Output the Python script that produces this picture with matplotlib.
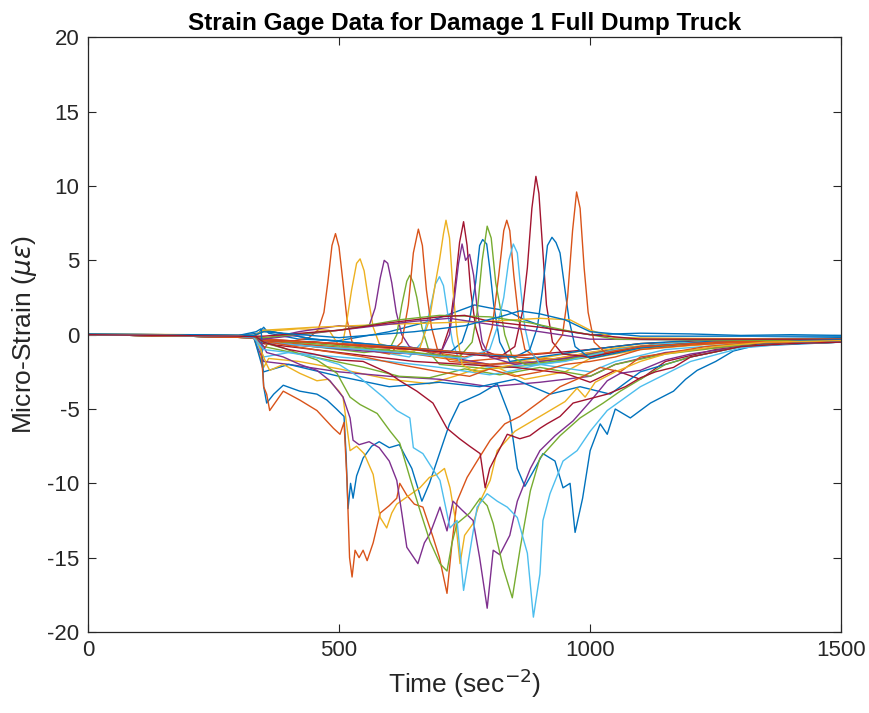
import matplotlib
matplotlib.use("Agg")
from matplotlib import pyplot as plt

# MATLAB default line colour order
palette = ["#0072BD", "#D95319", "#EDB120", "#7E2F8E", "#77AC30", "#4DBEEE", "#A2142F"]

x_ticks = [0, 500, 1000, 1500]
y_ticks = [-20, -15, -10, -5, 0, 5, 10, 15, 20]

# --- gauges with a positive peak (first row) ---
t_p1 = [0, 200, 330, 350, 400, 440, 458, 470, 478, 486, 493, 500, 508, 516, 526, 560, 650, 750, 850, 950, 1050, 1150, 1300, 1500]
e_p1 = [0.0, -0.1, -0.2, -0.6, -0.5, -0.2, 0.3, 1.5, 3.6, 6.0, 6.8, 5.9, 3.5, 1.0, -0.5, -1.0, -1.3, -1.8, -1.5, -1.7, -1.0, -0.7, -0.5, -0.4]

t_p2 = [0, 200, 330, 350, 420, 480, 505, 515, 525, 535, 542, 550, 558, 568, 580, 620, 700, 800, 900, 1000, 1100, 1250, 1500]
e_p2 = [0.05, 0.0, -0.1, 0.2, 0.4, 0.3, -1.0, 0.8, 3.0, 4.8, 5.1, 4.3, 2.5, 0.5, -0.6, -1.0, -1.5, -2.0, -1.6, -1.0, -0.6, -0.4, -0.3]

t_p3 = [0, 200, 330, 350, 420, 500, 540, 560, 572, 582, 590, 597, 605, 614, 625, 640, 700, 800, 900, 1000, 1100, 1250, 1500]
e_p3 = [0.0, -0.05, -0.1, -0.3, 0.2, 0.6, 0.5, 0.6, 1.8, 3.8, 5.0, 4.8, 3.5, 1.5, 0.0, -0.8, -1.4, -2.0, -1.8, -1.2, -0.8, -0.5, -0.4]

t_p4 = [0, 200, 330, 350, 450, 550, 600, 615, 625, 635, 641, 648, 655, 665, 680, 700, 800, 900, 1000, 1100, 1250, 1500]
e_p4 = [0.0, -0.1, -0.2, -0.5, -0.8, -1.2, -1.0, 0.0, 2.0, 3.6, 4.0, 3.5, 2.5, 0.5, -1.2, -2.0, -2.3, -2.0, -1.5, -0.9, -0.6, -0.4]

t_p5 = [0, 200, 330, 350, 450, 550, 640, 665, 680, 692, 700, 708, 716, 726, 740, 800, 900, 1000, 1100, 1250, 1500]
e_p5 = [0.0, -0.1, -0.2, -0.4, -0.7, -1.0, -1.5, -0.5, 1.5, 3.4, 3.9, 3.3, 1.5, -0.5, -1.8, -2.2, -2.0, -1.4, -0.8, -0.5, -0.4]

t_p6 = [0, 200, 330, 350, 450, 550, 650, 705, 720, 730, 740, 748, 755, 762, 772, 785, 820, 900, 1000, 1100, 1250, 1500]
e_p6 = [0.0, -0.1, -0.15, -0.3, -0.5, -0.8, -1.0, -1.0, 0.5, 3.0, 6.2, 7.6, 6.0, 3.0, 0.5, -1.0, -1.5, -1.3, -1.0, -0.6, -0.4, -0.3]

t_p7 = [0, 200, 330, 350, 450, 550, 650, 720, 745, 760, 772, 780, 786, 794, 800, 808, 820, 840, 900, 1000, 1100, 1250, 1500]
e_p7 = [0.0, -0.05, -0.1, 0.3, -0.3, -0.6, -0.9, -1.2, -0.5, 1.0, 3.5, 6.0, 6.4, 6.1, 4.5, 2.0, -0.5, -1.8, -1.5, -1.0, -0.6, -0.3, -0.2]

t_p8 = [0, 200, 330, 350, 450, 550, 650, 750, 790, 805, 818, 828, 834, 840, 848, 858, 870, 900, 1000, 1100, 1250, 1500]
e_p8 = [0.0, -0.05, -0.1, -0.3, -0.5, -0.8, -1.0, -1.5, -1.2, 0.5, 4.0, 7.0, 7.7, 7.0, 4.0, 1.0, -1.0, -1.7, -1.5, -0.8, -0.5, -0.4]

# --- gauges with a positive peak (second row) ---
t_q1 = [0, 200, 330, 350, 450, 550, 600, 625, 638, 648, 658, 666, 674, 684, 696, 720, 800, 900, 1000, 1100, 1250, 1500]
e_q1 = [0.0, -0.1, -0.2, -0.4, -0.7, -1.0, -1.3, -0.5, 2.0, 5.5, 7.1, 6.0, 3.0, 0.5, -1.0, -1.8, -2.0, -1.8, -1.3, -0.8, -0.5, -0.4]

t_q2 = [0, 200, 330, 350, 450, 550, 620, 660, 680, 692, 700, 708, 713, 720, 727, 735, 745, 770, 850, 950, 1050, 1150, 1300, 1500]
e_q2 = [0.0, -0.1, -0.2, -0.5, -0.8, -1.0, -1.3, -1.0, 1.0, 3.5, 5.0, 6.8, 7.7, 6.5, 3.0, 0.0, -2.0, -2.5, -2.0, -1.5, -0.9, -0.6, -0.4, -0.3]

t_q3 = [0, 200, 330, 350, 450, 550, 650, 700, 720, 730, 738, 745, 752, 760, 768, 776, 785, 800, 850, 950, 1050, 1150, 1300, 1500]
e_q3 = [0.0, -0.1, -0.2, -0.5, -0.8, -1.1, -1.3, -1.4, 0.0, 2.5, 4.8, 6.1, 5.0, 5.4, 4.0, 1.5, -0.5, -1.5, -2.0, -1.6, -1.0, -0.6, -0.4, -0.3]

t_q4 = [0, 200, 330, 350, 450, 550, 650, 740, 765, 775, 785, 795, 803, 812, 820, 830, 845, 870, 950, 1050, 1150, 1300, 1500]
e_q4 = [0.0, -0.1, -0.2, -0.4, -0.6, -0.9, -1.2, -1.5, -0.5, 1.5, 5.0, 7.3, 6.5, 3.5, 2.0, 0.0, -1.5, -2.0, -1.7, -1.0, -0.6, -0.4, -0.3]

t_q5 = [0, 200, 330, 350, 450, 550, 650, 750, 800, 815, 828, 838, 847, 855, 862, 870, 880, 900, 950, 1050, 1150, 1300, 1500]
e_q5 = [0.0, -0.1, -0.2, -0.5, -0.8, -1.0, -1.3, -1.6, -1.0, 0.5, 2.5, 5.0, 6.1, 5.5, 3.0, 0.5, -1.0, -2.0, -1.8, -1.0, -0.6, -0.4, -0.3]

t_q6 = [0, 200, 330, 350, 450, 550, 650, 750, 820, 850, 865, 875, 884, 892, 898, 905, 913, 925, 945, 1000, 1100, 1250, 1500]
e_q6 = [0.0, -0.1, -0.2, -0.4, -0.5, -0.7, -1.0, -1.3, -1.5, -0.8, 1.5, 4.5, 8.5, 10.65, 9.5, 6.0, 2.0, -0.5, -1.3, -1.5, -0.8, -0.5, -0.4]

t_q7 = [0, 200, 330, 350, 450, 550, 650, 750, 850, 880, 895, 905, 915, 924, 932, 940, 948, 958, 970, 1000, 1100, 1250, 1500]
e_q7 = [0.0, -0.05, -0.1, 0.3, -0.3, -0.6, -0.9, -1.2, -1.5, -1.0, 0.5, 3.0, 6.0, 6.55, 6.2, 5.5, 3.5, 1.0, -0.8, -1.6, -0.9, -0.4, -0.3]

t_q8 = [0, 200, 330, 350, 450, 550, 650, 750, 850, 920, 945, 955, 965, 973, 980, 988, 996, 1008, 1030, 1100, 1250, 1500]
e_q8 = [0.0, -0.1, -0.2, -0.4, -0.5, -0.7, -0.9, -1.2, -1.4, -1.2, 0.0, 2.5, 7.0, 9.6, 8.5, 4.5, 1.5, -0.5, -1.2, -0.8, -0.5, -0.4]

# --- gauges with deep compression troughs ---
t_n1 = [0, 150, 300, 335, 345, 350, 356, 362, 389, 422, 456, 489, 502, 510, 516, 521, 526, 532, 540, 548, 556, 568, 582, 600, 615, 621, 635, 650, 667, 687, 700, 715, 725, 735, 755, 775, 801, 830, 860, 900, 940, 980, 1020, 1060, 1100, 1160, 1230, 1300, 1400, 1500]
e_n1 = [0.0, -0.05, -0.1, -0.2, -1.0, -3.5, -4.0, -5.1, -3.8, -4.4, -5.1, -6.3, -6.7, -5.9, -9.9, -15.0, -16.3, -14.5, -15.0, -14.5, -15.2, -14.0, -12.0, -11.5, -11.0, -10.0, -10.8, -11.4, -11.6, -13.6, -15.0, -17.4, -14.0, -11.2, -9.6, -8.5, -7.1, -6.0, -5.5, -4.5, -3.5, -2.9, -2.2, -2.5, -1.5, -1.2, -0.8, -0.6, -0.5, -0.5]

t_n2 = [0, 150, 300, 335, 345, 350, 356, 370, 389, 422, 456, 476, 495, 510, 514, 518, 523, 528, 535, 548, 565, 580, 600, 620, 645, 665, 680, 700, 720, 740, 780, 815, 840, 855, 870, 890, 906, 930, 946, 960, 970, 985, 1000, 1020, 1034, 1050, 1080, 1120, 1166, 1190, 1213, 1250, 1285, 1345, 1420, 1500]
e_n2 = [0.05, 0.0, -0.05, 0.2, 0.4, -3.5, -4.6, -4.0, -3.4, -3.8, -4.0, -4.4, -5.0, -5.5, -8.0, -11.7, -10.0, -11.0, -9.5, -8.3, -7.5, -7.2, -7.6, -7.4, -9.0, -11.2, -10.0, -8.0, -6.0, -4.6, -4.0, -3.3, -5.5, -9.0, -10.2, -9.0, -8.0, -8.5, -10.3, -10.0, -13.3, -11.0, -7.8, -6.0, -6.7, -5.0, -5.6, -4.6, -3.8, -3.0, -2.4, -1.8, -1.1, -0.6, -0.4, -0.35]

t_n3 = [0, 150, 300, 335, 350, 356, 362, 389, 422, 456, 478, 500, 508, 515, 522, 535, 550, 568, 582, 595, 605, 615, 640, 661, 680, 695, 710, 721, 732, 741, 750, 767, 781, 801, 815, 850, 900, 950, 974, 990, 1010, 1050, 1100, 1150, 1250, 1350, 1500]
e_n3 = [0.0, -0.05, -0.1, -0.2, -1.5, -2.0, -2.4, -2.0, -2.6, -3.1, -3.0, -3.8, -4.2, -6.0, -7.8, -7.5, -8.0, -9.4, -12.3, -13.0, -12.0, -11.4, -10.8, -10.3, -9.6, -9.4, -9.0, -10.3, -12.5, -15.4, -13.5, -12.7, -11.2, -9.8, -7.8, -6.5, -5.5, -4.5, -3.6, -4.2, -3.2, -2.5, -1.8, -1.3, -0.8, -0.5, -0.4]

t_n4 = [0, 150, 300, 335, 350, 356, 389, 422, 456, 482, 508, 522, 528, 540, 560, 580, 600, 615, 625, 635, 645, 657, 670, 681, 701, 715, 727, 745, 767, 780, 795, 807, 820, 840, 855, 881, 900, 930, 966, 1000, 1034, 1060, 1100, 1150, 1200, 1300, 1400, 1500]
e_n4 = [0.0, -0.05, -0.1, -0.2, -0.8, -1.2, -1.5, -2.0, -2.4, -3.1, -4.2, -5.6, -7.1, -7.4, -7.2, -7.6, -8.5, -9.8, -12.0, -14.3, -14.8, -15.4, -14.0, -13.4, -11.6, -13.2, -11.2, -11.8, -12.5, -15.0, -18.4, -14.5, -14.8, -13.5, -11.2, -9.0, -7.8, -6.8, -5.8, -4.5, -3.1, -2.6, -2.4, -1.7, -1.3, -0.8, -0.6, -0.5]

t_n5 = [0, 150, 300, 335, 350, 356, 389, 422, 456, 496, 522, 542, 576, 602, 621, 641, 661, 681, 701, 715, 725, 735, 760, 781, 795, 807, 827, 845, 861, 881, 900, 940, 980, 1026, 1060, 1100, 1150, 1200, 1300, 1400, 1500]
e_n5 = [0.0, -0.05, -0.1, -0.2, -0.5, -0.6, -0.9, -1.3, -1.7, -2.6, -4.2, -4.7, -5.3, -6.5, -7.3, -9.6, -11.8, -13.9, -15.4, -15.9, -14.0, -12.7, -12.0, -11.0, -11.5, -12.7, -15.7, -17.7, -14.3, -10.5, -8.3, -6.8, -5.6, -4.6, -3.8, -3.0, -2.0, -1.5, -0.8, -0.6, -0.5]

t_n6 = [0, 150, 300, 330, 350, 400, 450, 500, 542, 588, 615, 641, 648, 667, 701, 721, 735, 748, 761, 775, 795, 815, 835, 855, 875, 887, 900, 906, 920, 946, 974, 1000, 1034, 1100, 1200, 1300, 1400, 1500]
e_n6 = [0.0, -0.05, -0.1, -0.2, -1.0, -1.2, -1.5, -2.0, -2.9, -4.2, -5.1, -5.6, -7.6, -8.0, -9.8, -13.0, -12.5, -17.2, -14.5, -11.6, -10.7, -11.2, -11.6, -12.3, -14.7, -19.0, -16.1, -12.5, -10.7, -8.5, -7.8, -6.5, -5.1, -3.5, -1.8, -0.9, -0.6, -0.5]

t_n7 = [0, 150, 300, 335, 350, 400, 450, 500, 548, 600, 621, 655, 687, 715, 740, 760, 781, 791, 800, 815, 835, 860, 880, 900, 914, 940, 966, 1000, 1034, 1070, 1100, 1130, 1166, 1200, 1300, 1400, 1500]
e_n7 = [0.0, -0.05, -0.1, -0.15, -0.5, -1.0, -1.3, -1.7, -1.8, -2.6, -3.1, -3.8, -4.6, -6.3, -7.0, -7.5, -8.0, -10.3, -9.0, -8.0, -6.7, -7.0, -6.8, -6.3, -6.0, -5.5, -4.6, -4.3, -4.0, -3.5, -2.9, -2.5, -2.2, -1.5, -0.8, -0.6, -0.5]

# --- gauges that stay in the mid band ---
t_m1 = [0, 200, 330, 350, 360, 450, 550, 620, 700, 760, 800, 850, 900, 950, 1000, 1050, 1100, 1200, 1300, 1500]
e_m1 = [0.0, -0.1, -0.2, -1.0, -0.5, -1.0, -1.5, -2.0, -2.5, -2.8, -2.3, -2.8, -2.5, -2.0, -1.8, -1.5, -1.0, -0.7, -0.5, -0.4]

t_m2 = [0, 200, 330, 350, 400, 500, 600, 700, 800, 850, 900, 1000, 1050, 1150, 1300, 1500]
e_m2 = [0.0, -0.1, -0.2, -1.5, -1.2, -1.5, -1.8, -2.2, -2.7, -2.4, -2.0, -2.5, -1.8, -1.0, -0.6, -0.5]

t_m3 = [0, 200, 330, 350, 450, 550, 620, 680, 750, 820, 900, 1000, 1050, 1150, 1300, 1500]
e_m3 = [0.0, -0.1, -0.2, -0.8, -1.5, -2.2, -2.8, -2.9, -2.3, -2.7, -2.2, -2.8, -2.0, -1.3, -0.7, -0.5]

t_m4 = [0, 200, 330, 350, 360, 420, 500, 600, 680, 730, 800, 870, 950, 1000, 1100, 1250, 1500]
e_m4 = [0.0, -0.1, -0.2, -2.2, -1.6, -1.8, -2.3, -3.0, -3.3, -2.8, -2.0, -3.0, -2.5, -1.6, -1.0, -0.6, -0.4]

t_m5 = [0, 200, 330, 350, 400, 500, 600, 700, 800, 900, 1000, 1050, 1150, 1300, 1500]
e_m5 = [0.0, -0.1, -0.2, -1.8, -2.0, -2.5, -2.8, -3.0, -3.5, -3.2, -2.8, -2.0, -1.2, -0.7, -0.5]

t_m6 = [0, 200, 330, 350, 450, 550, 650, 750, 850, 950, 1000, 1050, 1100, 1150, 1250, 1350, 1500]
e_m6 = [0.0, -0.1, -0.15, -0.6, -1.0, -1.4, -1.8, -2.0, -2.2, -2.6, -3.2, -2.4, -3.0, -1.8, -1.0, -0.6, -0.5]

t_m7 = [0, 200, 330, 350, 400, 500, 600, 700, 780, 850, 920, 980, 1040, 1100, 1200, 1300, 1500]
e_m7 = [0.0, -0.05, -0.1, -2.5, -2.0, -2.8, -3.5, -3.2, -3.5, -3.0, -4.0, -3.5, -4.0, -2.5, -1.5, -0.8, -0.5]

# --- gauges with a small positive hump ---
t_h0 = [0, 150, 300, 340, 350, 360, 420, 500, 600, 680, 730, 770, 800, 835, 870, 920, 1000, 1100, 1200, 1300, 1400, 1500]
e_h0 = [0.05, 0.0, -0.05, 0.1, 0.5, 0.1, -0.3, -0.4, 0.2, 0.9, 1.5, 2.0, 1.8, 1.6, 1.0, 0.4, 0.0, 0.1, 0.05, -0.05, 0.0, -0.05]

t_h1 = [0, 200, 330, 350, 500, 620, 700, 800, 880, 950, 1050, 1200, 1500]
e_h1 = [0.0, -0.05, -0.1, -0.2, 0.3, 1.0, 1.3, 1.2, 0.8, 0.3, -0.3, -0.35, -0.4]

t_h2 = [0, 200, 330, 350, 450, 600, 700, 800, 900, 960, 1000, 1050, 1200, 1500]
e_h2 = [0.0, 0.0, -0.05, 0.3, 0.5, 0.7, 0.8, 0.9, 1.1, 1.0, 0.3, -0.2, -0.25, -0.3]

t_h3 = [0, 200, 330, 350, 500, 600, 700, 750, 800, 900, 1000, 1100, 1500]
e_h3 = [0.0, -0.05, -0.1, -0.1, 0.3, 0.8, 1.2, 1.3, 0.9, 0.5, 0.0, -0.3, -0.3]

t_h4 = [0, 200, 330, 350, 500, 650, 750, 820, 860, 900, 950, 1000, 1100, 1500]
e_h4 = [0.0, 0.0, -0.05, 0.2, -0.2, 0.2, 0.6, 1.2, 1.6, 1.4, 1.0, 0.2, -0.1, -0.1]

t_h5 = [0, 200, 330, 350, 500, 650, 720, 800, 900, 1000, 1200, 1500]
e_h5 = [0.0, -0.05, -0.1, -0.3, 0.3, 0.9, 1.1, 0.7, 0.2, -0.3, -0.35, -0.4]

# (time, strain, colour index) in the order they were plotted
gauges = [
    (t_h0, e_h0, 0), (t_p1, e_p1, 1), (t_p2, e_p2, 2), (t_p3, e_p3, 3),
    (t_p4, e_p4, 4), (t_p5, e_p5, 5), (t_p6, e_p6, 6), (t_p7, e_p7, 0),
    (t_p8, e_p8, 1), (t_m4, e_m4, 2), (t_m5, e_m5, 3), (t_m3, e_m3, 4),
    (t_m2, e_m2, 5), (t_m6, e_m6, 6), (t_m7, e_m7, 0), (t_q1, e_q1, 1),
    (t_q2, e_q2, 2), (t_q3, e_q3, 3), (t_q4, e_q4, 4), (t_q5, e_q5, 5),
    (t_q6, e_q6, 6), (t_q7, e_q7, 0), (t_q8, e_q8, 1), (t_h2, e_h2, 2),
    (t_h5, e_h5, 3), (t_h1, e_h1, 4), (t_h3, e_h3, 6), (t_h4, e_h4, 0),
    (t_m1, e_m1, 1), (t_n2, e_n2, 0), (t_n1, e_n1, 1), (t_n3, e_n3, 2),
    (t_n4, e_n4, 3), (t_n5, e_n5, 4), (t_n6, e_n6, 5), (t_n7, e_n7, 6),
]

plt.rcParams["font.family"] = ["Liberation Sans", "DejaVu Sans"]
plt.rcParams["axes.unicode_minus"] = False

fig = plt.figure(figsize=(8.7, 7.13), dpi=100)
ax = fig.add_axes([0.101, 0.1136, 0.866, 0.834])

for t, e, ci in gauges:
    ax.plot(t, e, color=palette[ci], linewidth=1.0)

ax.set_xlim(0, 1500)
ax.set_ylim(-20, 20)
ax.set_xticks(x_ticks)
ax.set_yticks(y_ticks)
ax.tick_params(direction="in", top=True, right=True, length=6, pad=6,
               labelsize=16, color="#262626", labelcolor="#262626")
for sp in ax.spines.values():
    sp.set_color("#262626")
    sp.set_linewidth(0.9)

ax.set_xlabel(r"Time (sec$^{-2}$)", fontsize=19, color="#262626", labelpad=4)
ax.set_ylabel(r"Micro-Strain ($\mu\epsilon$)", fontsize=19, color="#262626", labelpad=6)
ax.set_title("Strain Gage Data for Damage 1 Full Dump Truck",
             fontsize=17.5, fontweight="bold", pad=5)

fig.savefig("out.png", dpi=100)
plt.close(fig)
